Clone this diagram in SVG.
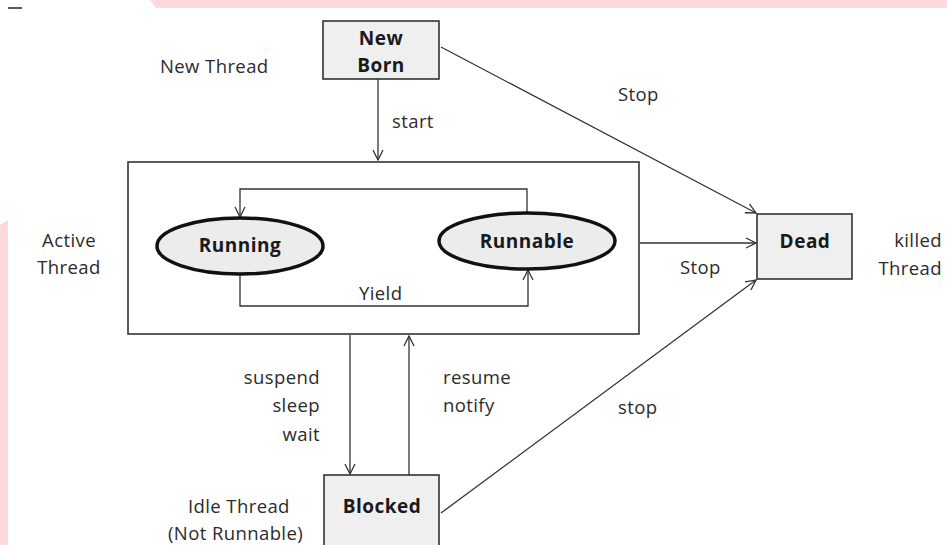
<svg xmlns="http://www.w3.org/2000/svg" width="947" height="545" viewBox="0 0 947 545">
<defs>
<style>
.t{font-family:"Open Sans","Liberation Sans",sans-serif;font-size:18.5px;letter-spacing:0.4px;fill:#2b2b2b}
.b{font-family:"Open Sans","Liberation Sans",sans-serif;font-size:19px;letter-spacing:0.5px;font-weight:bold;fill:#1a1a1a}
.box{fill:#efefef;stroke:#333;stroke-width:1.6}
.ell{fill:#ececec;stroke:#111;stroke-width:3.5}
.ln{fill:none;stroke:#333;stroke-width:1.3}
</style>
<marker id="ah" viewBox="0 0 12 12" refX="11" refY="6" markerWidth="12" markerHeight="12" markerUnits="userSpaceOnUse" orient="auto">
<path d="M1,1 L11,6 L1,11" fill="none" stroke="#333" stroke-width="1.3"/>
</marker>
</defs>
<rect width="947" height="545" fill="#fff"/>
<g id="watermark" fill="#ffd9dc">
<polygon points="150,0 947,0 947,8 156,8"/>
<polygon points="0,225 8,220 8,545 0,545"/>
</g>
<line x1="8" y1="8" x2="22" y2="8" stroke="#222" stroke-width="1.5"/>
<g id="connectors">
<line class="ln" x1="378" y1="79" x2="378" y2="160" marker-end="url(#ah)"/>
<line class="ln" x1="441" y1="47" x2="756" y2="213" marker-end="url(#ah)"/>
<line class="ln" x1="640" y1="243" x2="756" y2="243" marker-end="url(#ah)"/>
<line class="ln" x1="441" y1="513" x2="756" y2="280" marker-end="url(#ah)"/>
<polyline class="ln" points="527,214 527,189 240,189 240,217" marker-end="url(#ah)"/>
<polyline class="ln" points="240,274 240,306 528,306 528,270" marker-end="url(#ah)"/>
<line class="ln" x1="350" y1="335" x2="350" y2="474" marker-end="url(#ah)"/>
<line class="ln" x1="409" y1="475" x2="409" y2="336" marker-end="url(#ah)"/>
</g>
<g id="newborn">
<rect class="box" x="323" y="21" width="116" height="58"/>
<text class="b" x="381" y="45" text-anchor="middle">New</text>
<text class="b" x="381" y="72" text-anchor="middle">Born</text>
</g>
<g id="active">
<rect x="128" y="162" width="511" height="172" fill="none" stroke="#333" stroke-width="1.6"/>
</g>
<g id="running">
<ellipse class="ell" cx="240" cy="246" rx="83" ry="28"/>
<text class="b" x="240" y="252" text-anchor="middle">Running</text>
</g>
<g id="runnable">
<ellipse class="ell" cx="527" cy="241" rx="88" ry="28"/>
<text class="b" x="527" y="248" text-anchor="middle">Runnable</text>
</g>
<g id="dead">
<rect class="box" x="757" y="214" width="95" height="65"/>
<text class="b" x="805" y="248" text-anchor="middle">Dead</text>
</g>
<g id="blocked">
<rect class="box" x="324" y="475" width="115" height="80"/>
<text class="b" x="382" y="513" text-anchor="middle">Blocked</text>
</g>
<g id="labels">
<text class="t" x="160" y="73">New Thread</text>
<text class="t" x="392" y="128">start</text>
<text class="t" x="618" y="101">Stop</text>
<text class="t" x="680" y="274">Stop</text>
<text class="t" x="942" y="247" text-anchor="end">killed</text>
<text class="t" x="942" y="275" text-anchor="end">Thread</text>
<text class="t" x="69" y="247" text-anchor="middle">Active</text>
<text class="t" x="69" y="274" text-anchor="middle">Thread</text>
<text class="t" x="359" y="300">Yield</text>
<text class="t" x="320" y="384" text-anchor="end">suspend</text>
<text class="t" x="320" y="412" text-anchor="end">sleep</text>
<text class="t" x="320" y="441" text-anchor="end">wait</text>
<text class="t" x="443" y="384">resume</text>
<text class="t" x="443" y="412">notify</text>
<text class="t" x="618" y="414">stop</text>
<text class="t" x="188" y="513">Idle Thread</text>
<text class="t" x="168" y="540">(Not Runnable)</text>
</g>
</svg>
